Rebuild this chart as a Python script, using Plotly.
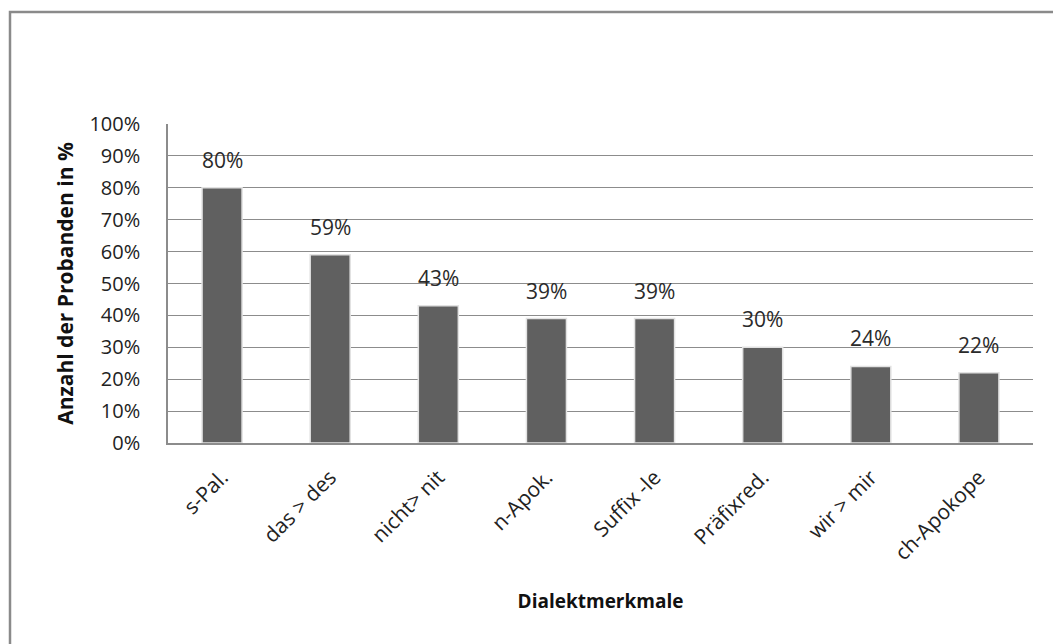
import plotly.graph_objects as go

categories = ["s-Pal.", "das > des", "nicht> nit", "n-Apok.", "Suffix -le", "Präfixred.", "wir > mir", "ch-Apokope"]
values = [80, 59, 43, 39, 39, 30, 24, 22]
y_ticks = list(range(0, 101, 10))
y_ticklabels = [f"{t}%" for t in y_ticks]
y_title = "Anzahl der Probanden in %"
x_title = "Dialektmerkmale"

W, H = 1053, 644
L, R, T, B = 168, 20, 124, 201
pw, ph = W - L - R, H - T - B

def px_x(x):
    return (x - L) / pw

def px_y(y):
    return (H - B - y) / ph

FONT = "Open Sans"

fig = go.Figure()
fig.add_trace(go.Bar(
    x=categories, y=values,
    marker=dict(color="#606060", line=dict(color="#e2e2e2", width=1.5)),
    width=0.37,
))

for c, v in zip(categories, values):
    fig.add_annotation(x=c, y=v, text=f"{v}%", showarrow=False,
                       yanchor="bottom", yshift=12,
                       font=dict(family=FONT, size=21, color="#2a2a2a"))

# outer chart border (left and top edges visible)
fig.add_shape(type="rect", xref="paper", yref="paper",
              x0=px_x(10), x1=px_x(1070), y0=px_y(660), y1=px_y(12),
              line=dict(color="#8a8a8a", width=2.5), fillcolor="rgba(0,0,0,0)", layer="below")

fig.update_layout(
    width=W, height=H,
    margin=dict(l=L, r=R, t=T, b=B),
    paper_bgcolor="white", plot_bgcolor="white",
    showlegend=False,
    font=dict(family=FONT, color="#222222"),
)
fig.update_xaxes(
    tickangle=-45, tickfont=dict(family=FONT, size=21, color="#222222"),
    showline=True, linecolor="#8c8c8c", linewidth=1.5,
    ticks="", showgrid=False, ticklabelstandoff=12,
    title=dict(text=f"<b>{x_title}</b>", font=dict(family=FONT, size=19, color="#111111"), standoff=30),
)
fig.update_yaxes(
    range=[0, 100], tickvals=y_ticks, ticktext=y_ticklabels,
    tickfont=dict(family=FONT, size=20, color="#222222"),
    showgrid=True, gridcolor="#8c8c8c", gridwidth=1,
    showline=True, linecolor="#8c8c8c", linewidth=1.5,
    ticks="", ticklabelstandoff=22,
    zeroline=False,
    title=dict(text=f"<b>{y_title}</b>", font=dict(family=FONT, size=21, color="#111111"), standoff=10),
)

fig.write_html("out.html")
